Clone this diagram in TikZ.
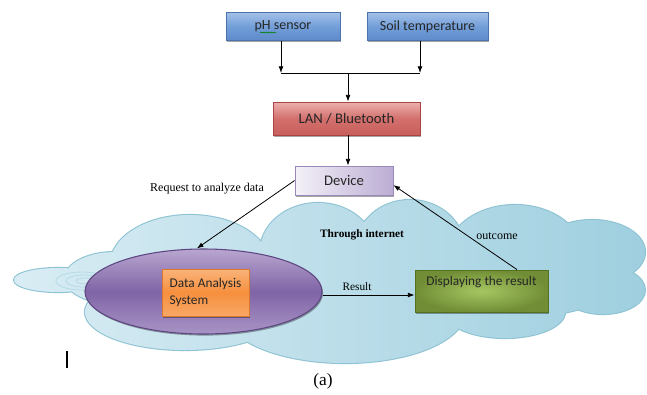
\documentclass[tikz,border=0pt]{standalone}
\usepackage{fontspec}
\setmainfont{Liberation Serif}
\newfontfamily\calibri{Carlito}
\usetikzlibrary{arrows.meta,shadows,shapes.geometric,decorations.pathmorphing}
\definecolor{blueT}{HTML}{A3C0E8}
\definecolor{blueM}{HTML}{729ED8}
\definecolor{blueB}{HTML}{5E8ACB}
\definecolor{blueE}{HTML}{4A72AC}
\definecolor{redT}{HTML}{EDB0AE}
\definecolor{redM}{HTML}{D2706D}
\definecolor{redB}{HTML}{C85F5C}
\definecolor{redE}{HTML}{A84542}
\definecolor{lavL}{HTML}{F4F1F8}
\definecolor{lavR}{HTML}{BBADD3}
\definecolor{lavE}{HTML}{9A88B8}
\definecolor{purT}{HTML}{B8A6D0}
\definecolor{purM}{HTML}{8064A6}
\definecolor{purB}{HTML}{A894C5}
\definecolor{purE}{HTML}{5E4682}
\definecolor{orT}{HTML}{FAB47A}
\definecolor{orM}{HTML}{F68F3E}
\definecolor{orB}{HTML}{F8A866}
\definecolor{orE}{HTML}{D9782C}
\definecolor{grI}{HTML}{A6C662}
\definecolor{grO}{HTML}{718E36}
\definecolor{grE}{HTML}{55701F}
\definecolor{cloudL}{HTML}{DAEDF4}
\definecolor{cloudR}{HTML}{9FCFDF}
\definecolor{cloudE}{HTML}{8EC3D4}
\definecolor{swirl}{HTML}{C6E3EC}
\newcommand\cloudshape{(58,280) ellipse (44 and 12)
 (115,278) ellipse (50 and 26)
 (190,265) ellipse (80 and 50)
 (318,252) ellipse (58 and 49)
 (410,250) ellipse (55 and 50)
 (515,255) ellipse (68 and 50)
 (592,252) ellipse (53 and 32)
 (603,290) ellipse (42 and 24)
 (505,312) ellipse (60 and 26)
 (345,312) ellipse (120 and 51)
 (185,312) ellipse (100 and 38)
 (360,285) ellipse (260 and 45)}
\begin{document}
\begin{tikzpicture}[x=0.75pt,y=-0.75pt,
  >={Latex[length=5pt,width=3.6pt]},
  conn/.style={draw=black, line width=0.6pt},
  shad/.style={drop shadow={shadow xshift=0.8pt,shadow yshift=-1.2pt,fill=black,opacity=0.35}},
  boxbase/.style={shad, line width=0.6pt, inner sep=0pt, font=\calibri\fontsize{10.5}{12}\selectfont, text=black!85},
  bluebox/.style={boxbase, draw=blueE, top color=blueT, bottom color=blueB, middle color=blueM},
  redbox/.style={boxbase, draw=redE, top color=redT, bottom color=redB, middle color=redM},
  lavbox/.style={boxbase, draw=lavE, left color=lavL, right color=lavR},
  purell/.style={shad, ellipse, draw=purE, line width=0.8pt, inner sep=0pt, top color=purT, bottom color=purB, middle color=purM},
  orbox/.style={boxbase, draw=orE, top color=orT, bottom color=orB, middle color=orM},
  grbox/.style={boxbase, draw=grE, inner color=grI, outer color=grO},
  lbl/.style={font=\fontsize{9}{10}\selectfont, text=black}
]
\useasboundingbox (0,0) rectangle (647,394);
\fill[white] (0,0) rectangle (647,394);

% cloud
\draw[cloudE, line width=1.6pt] \cloudshape;
\begin{scope}
\clip \cloudshape;
\shade[left color=cloudL, right color=cloudR] (0,190) rectangle (647,370);
\end{scope}
% swirl
\draw[swirl!70!cloudE, line width=0.6pt] (82,281) ellipse (26 and 9);
\draw[swirl!70!cloudE, line width=0.6pt] (84,281) ellipse (18 and 6);
\draw[swirl!70!cloudE, line width=0.6pt] (86,281) ellipse (10 and 3);

% nodes
\node[bluebox, minimum width=85.5pt, minimum height=21pt] (ph) at (283,26.5) {pH sensor};
\node[bluebox, minimum width=90.75pt, minimum height=21pt] (soil) at (427.5,26.5) {Soil temperature};
\node[redbox, minimum width=110.25pt, minimum height=24.75pt, font=\calibri\fontsize{11}{12}\selectfont] (lan) at (346.5,118.5) {LAN / Bluetooth};
\node[lavbox, minimum width=73.5pt, minimum height=21.75pt, font=\calibri\fontsize{11}{12}\selectfont] (dev) at (344,180.5) {Device};
\node[purell, minimum width=177.75pt, minimum height=63.75pt] (ell) at (203.5,291.5) {};
\node[orbox, minimum width=65.25pt, minimum height=35.25pt, align=left, font=\calibri\fontsize{10}{12.75}\selectfont] (das) at (205.5,292.5) {Data Analysis\\System};
\node[grbox, minimum width=99.75pt, minimum height=31.5pt,
  label={[anchor=north, yshift=-1.5pt, font=\calibri\fontsize{10}{12}\selectfont, text=black!85]north:Displaying the result}] (disp) at (481.5,291) {};

% spell-check squiggle
\draw[green!50!black, line width=0.3pt, decorate, decoration={zigzag, segment length=1.2pt, amplitude=0.35pt}] (260,32.5) -- (276,32.5);

% connectors
\coordinate (j1) at (281,73);
\coordinate (j2) at (420,73);
\coordinate (jm) at (348,73);
\coordinate (ry) at (0,295);
\draw[conn,->] (ph.south -| j1) -- (j1);
\draw[conn,->] (soil.south -| j2) -- (j2);
\draw[conn] (j1) -- (j2);
\draw[conn,->] (jm) -- (lan.north -| jm);
\draw[conn,->] (lan.south -| jm) -- (dev.north -| jm);
\draw[conn,->] (dev.west) -- ([xshift=-5pt]ell.north);
\draw[conn,->] ([xshift=26.6pt]disp.north) -- ([yshift=-3.4pt]dev.east);
\draw[conn,->] (ell.east |- ry) -- (disp.west |- ry);

% labels
\node[lbl] (req) at (207,189) {Request to analyze data};
\node[lbl, font=\bfseries\fontsize{8.5}{10}\selectfont] (thr) at (362,235) {Through internet};
\node[lbl] (out) at (497,236) {outcome};
\node[lbl, font=\fontsize{8.5}{10}\selectfont] (res) at (357,287) {Result};
\node[font=\fontsize{13}{15}\selectfont] (cap) at (323,381) {(a)};
\draw[line width=1pt] (67,351) -- (67,368);
\end{tikzpicture}
\end{document}
